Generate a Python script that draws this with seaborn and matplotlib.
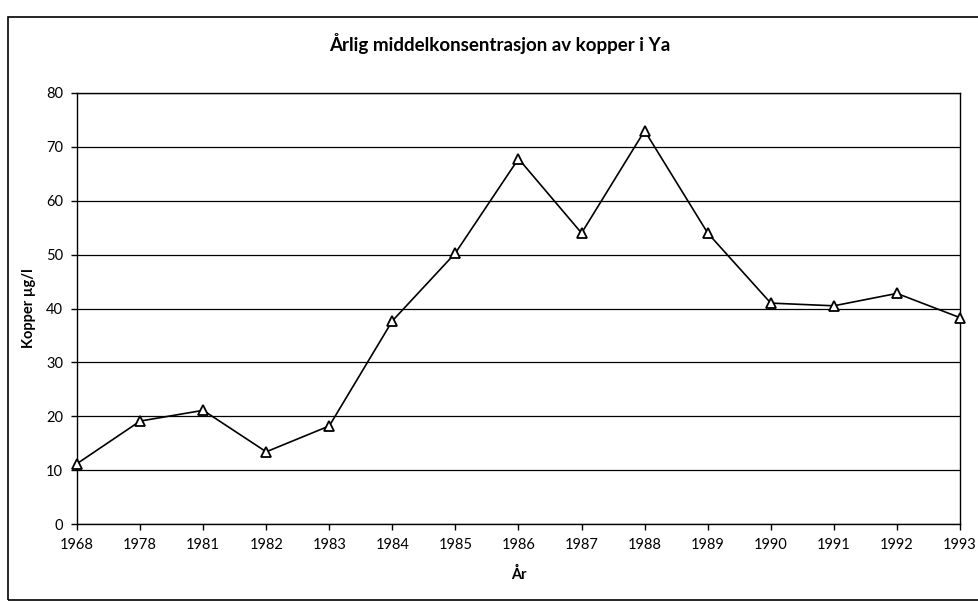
import matplotlib
matplotlib.use("Agg")
import matplotlib.pyplot as plt
import seaborn as sns
import pandas as pd
from matplotlib.patches import Rectangle

years = ["1968", "1978", "1981", "1982", "1983", "1984", "1985", "1986",
         "1987", "1988", "1989", "1990", "1991", "1992", "1993"]
copper = [11.2, 19.1, 21.1, 13.4, 18.2, 37.7, 50.3, 67.8,
          54.0, 73.0, 54.0, 41.0, 40.5, 42.8, 38.3]
yticks = [0, 10, 20, 30, 40, 50, 60, 70, 80]

title = "Årlig middelkonsentrasjon av kopper i Ya"
xlabel = "År"
ylabel = "Kopper µg/l"

sns.set_theme(style="white")
plt.rcParams['font.family'] = ['Lato', 'DejaVu Sans']

df = pd.DataFrame({"År": years, "Kopper": copper})

fig = plt.figure(figsize=(9.79, 6.02), dpi=100)
ax = fig.add_axes([77/979, 1 - 524/602, (960-77)/979, (524-93)/602])

sns.lineplot(data=df, x="År", y="Kopper", ax=ax, color="black", linewidth=1.2,
             marker="^", markersize=7, markerfacecolor="white",
             markeredgecolor="black", markeredgewidth=1.3, sort=False,
             clip_on=False, zorder=5)

ax.set_xlim(0, len(years) - 1)
ax.set_ylim(0, 80)
ax.set_yticks(yticks)
ax.set_yticklabels([str(v) for v in yticks])
ax.grid(axis="y", color="black", linewidth=0.9)
ax.set_axisbelow(True)
for s in ax.spines.values():
    s.set_color("black")
    s.set_linewidth(1.0)
ax.tick_params(axis="both", direction="out", length=4, width=1, color="black",
               labelsize=10.5, labelcolor="black", bottom=True, left=True, pad=6)

ax.set_xlabel(xlabel, fontsize=10.5, fontweight="bold", color="black", labelpad=11)
ax.set_ylabel(ylabel, fontsize=10.5, fontweight="bold", color="black", labelpad=7)
fig.text(500/979, 1 - 43/602, title, ha="center", va="center",
         fontsize=13.5, fontweight="bold", color="black")

fig.patches.append(Rectangle((8/979, 2/602), 1.02, (600-17)/602,
                             transform=fig.transFigure, fill=False,
                             edgecolor="black", linewidth=1.2))

fig.savefig("out.png", dpi=100, facecolor="white")
